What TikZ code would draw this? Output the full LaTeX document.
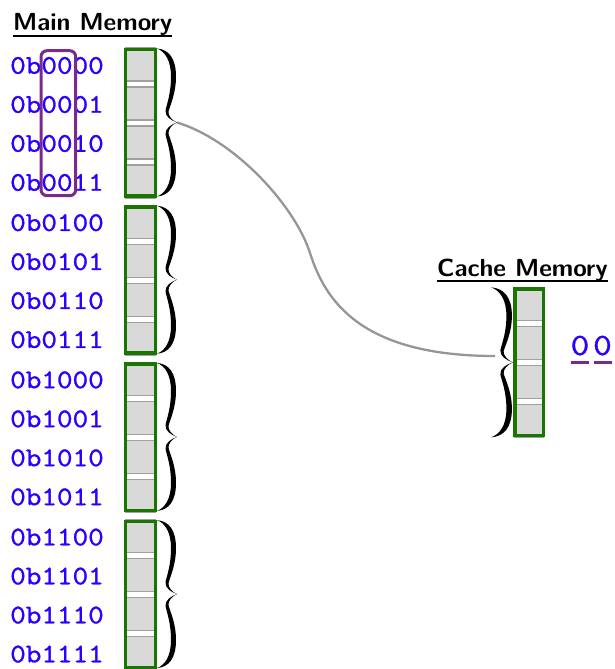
\documentclass[tikz,border=0pt]{standalone}
\usepackage{graphicx}
\usepackage{fontspec}
\newfontfamily\addrfont{lmmono10-regular.otf}[FakeBold=1.0]
\newfontfamily\headfont{lmsans10-bold.otf}
\definecolor{addr}{RGB}{42,0,255}
\definecolor{blockgreen}{RGB}{26,118,0}
\definecolor{cellgray}{RGB}{217,217,217}
\definecolor{celledge}{RGB}{160,160,160}
\definecolor{tagpurple}{RGB}{122,42,140}
\definecolor{linkgray}{RGB}{150,150,150}
\tikzset{
  memcell/.style={fill=cellgray, draw=celledge, line width=1.3pt},
  memblock/.style={draw=blockgreen, line width=3.3pt},
  addrlabel/.style={text=addr, inner sep=0,
    font=\addrfont\fontsize{27}{27}\selectfont},
  taglabel/.style={text=addr, inner sep=0, anchor=base,
    font=\addrfont\fontsize{31}{31}\selectfont},
  heading/.style={inner sep=0, anchor=base west,
    font=\headfont\fontsize{24.7}{24.7}\selectfont},
  headrule/.style={line width=2pt},
  tagline/.style={draw=tagpurple, line width=3pt},
  link/.style={draw=linkgray, line width=2.3pt},
  % right curly brace, 20 wide and 148 tall, ends on the left, tip at (20,74)
  rbrace/.pic={
    \fill[black]
      (0,0) .. controls (12,1) and (19,10) .. (19,28)
            .. controls (19,45) and (13,57) .. (11.5,63)
            .. controls (11,67) and (15,72) .. (20,74)
            .. controls (15,76) and (11,81) .. (11.5,85)
            .. controls (13,91) and (19,103) .. (19,120)
            .. controls (19,138) and (12,147) .. (0,148)
            .. controls (8,145) and (14,136) .. (14,120)
            .. controls (14,103) and (10,93) .. (8.5,86)
            .. controls (8,80) and (14,76) .. (20,74)
            .. controls (14,72) and (8,68) .. (8.5,62)
            .. controls (10,55) and (14,45) .. (14,28)
            .. controls (14,12) and (8,3) .. (0,0) -- cycle;
    \coordinate (-tip) at (20,74);
  },
}
\begin{document}
\begin{tikzpicture}[x=1pt,y=-1pt]
\useasboundingbox (0,0) rectangle (614,669);

% main memory title
\node[heading] (maintitle) at (13,31) {Main Memory};
\draw[headrule] ([yshift=-5pt]maintitle.base west) -- ([yshift=-5pt]maintitle.base east);

% main memory: four blocks of four cells
\foreach \g/\la/\lb/\lc/\ld in {0/0000/0001/0010/0011, 1/0100/0101/0110/0111,
                                2/1000/1001/1010/1011, 3/1100/1101/1110/1111} {
  \pgfmathsetmacro{\G}{48+157.2*\g}
  \foreach \i/\lab in {0/\la, 1/\lb, 2/\lc, 3/\ld} {
    \draw[memcell] (125.7,\G+39*\i) rectangle (155.7,\G+39*\i+33);
    \node[addrlabel] (addr-\g-\i) at (57,\G+39*\i+17.5) {\scalebox{1.1}[1]{0b\lab}};
  }
  \draw[memblock] (125.7,\G+1.65) rectangle (155.7,\G+149.5-1.65);
  \pic (brace\g) at (157,\G+0.5) {rbrace};
}

% tag bits highlighted in the addresses
\draw[tagpurple, line width=3pt, rounded corners=6pt] (41,50.7) rectangle (75.7,195.7);

% cache memory
\node[heading] (cachetitle) at (437,276) {Cache Memory};
\draw[headrule] ([yshift=-5pt]cachetitle.base west) -- ([yshift=-5pt]cachetitle.base east);
\foreach \i in {0,...,3} {
  \draw[memcell] (515,287.3+39*\i) rectangle (543.6,287.3+39*\i+33);
}
\draw[memblock] (515,289) rectangle (543.6,435.6);
\pic[xscale=1.1, yscale=1.014] (cachebrace) at (491,287.3) {rbrace};

% tag value
\node[taglabel] (tag0) at (580,355) {\scalebox{1.15}[1]{0}};
\node[taglabel] (tag1) at (602.5,355) {\scalebox{1.15}[1]{0}};
\draw[tagline] ([xshift=-9pt,yshift=-7pt]tag0.base) -- ([xshift=9pt,yshift=-7pt]tag0.base);
\draw[tagline] ([xshift=-9pt,yshift=-7pt]tag1.base) -- ([xshift=9pt,yshift=-7pt]tag1.base);

% mapping of the first block into the cache
\coordinate (cachein) at (495,356);
\draw[link] (brace0-tip) .. controls (235,140) and (295,206) .. (310,253)
                         .. controls (325,300) and (360,356) .. (cachein);
\end{tikzpicture}
\end{document}
